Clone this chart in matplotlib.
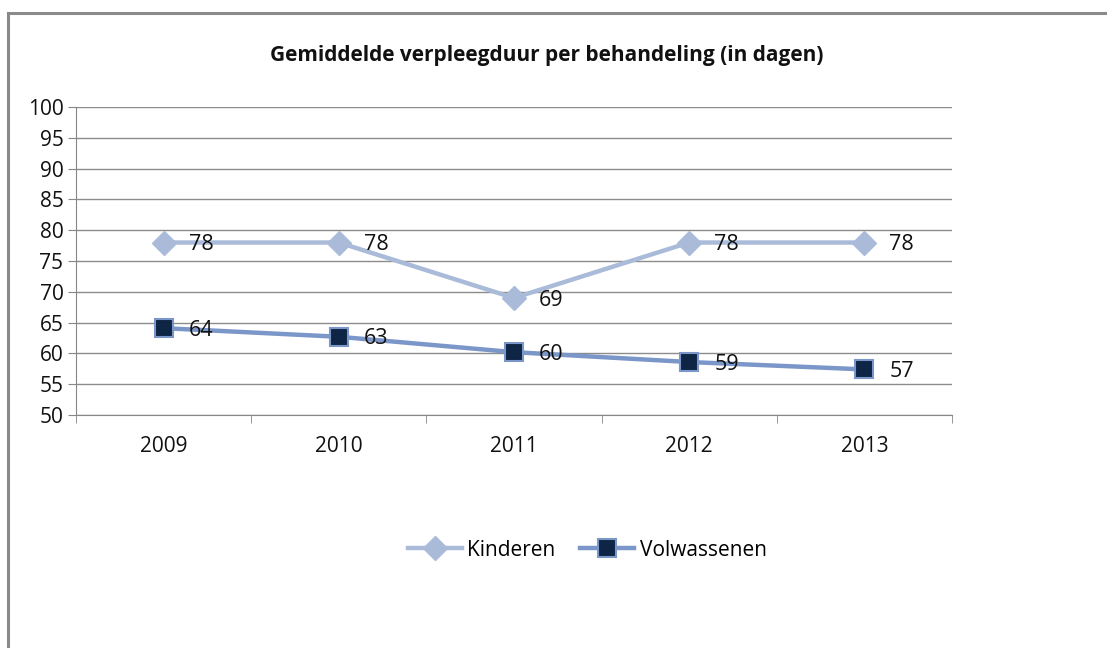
import numpy as np
import matplotlib.pyplot as plt
from matplotlib.lines import Line2D

plt.rcParams['font.family'] = ['Open Sans', 'DejaVu Sans']

# data
years = ['2009', '2010', '2011', '2012', '2013']
kinderen = [78.0, 78.0, 69.0, 78.0, 78.0]
volwassenen = [64.1, 62.7, 60.2, 58.6, 57.4]

W, H = 1107, 648
fig = plt.figure(figsize=(W / 100, H / 100), dpi=100)

# outer frame (only top and left edges visible in the screenshot)
frame_col = '#8a8a8a'
fig.add_artist(Line2D([8 / W, 8 / W], [0, 1 - 13 / H], color=frame_col, lw=2.2, transform=fig.transFigure))
fig.add_artist(Line2D([8 / W, 1], [1 - 13 / H, 1 - 13 / H], color=frame_col, lw=2.2, transform=fig.transFigure))

ax = fig.add_axes([76 / W, 1 - 415 / H, (952 - 76) / W, (415 - 107) / H])

x = np.arange(len(years))
c_kind = '#aabbd9'
c_volw = '#7b96c8'

ax.plot(x, kinderen, color=c_kind, lw=3.2, marker='D', markersize=12,
        markerfacecolor=c_kind, markeredgecolor=c_kind, label='Kinderen', zorder=3)
ax.plot(x, volwassenen, color=c_volw, lw=3.2, marker='s', markersize=13,
        markerfacecolor='#0f2545', markeredgecolor=c_volw, markeredgewidth=1.5,
        label='Volwassenen', zorder=4)

for xi, v in zip(x, kinderen):
    ax.annotate(f'{round(v):.0f}', (xi, v), xytext=(18, -1.5), textcoords='offset points',
                ha='left', va='center', fontsize=15.5, color='#111111', zorder=5)
for xi, v in zip(x, volwassenen):
    ax.annotate(f'{round(v):.0f}', (xi, v), xytext=(18, -1.5), textcoords='offset points',
                ha='left', va='center', fontsize=15.5, color='#111111', zorder=5)

ax.set_xlim(-0.5, len(years) - 0.5)
ax.set_ylim(50, 100)
ax.set_yticks(np.arange(50, 101, 5))
ax.set_xticks(x)
ax.set_xticklabels(years)
ax.set_xticks(np.arange(-0.5, len(years), 1), minor=True)
ax.tick_params(axis='x', which='major', length=0, pad=15, labelsize=15, labelcolor='#111111')
ax.tick_params(axis='x', which='minor', length=6, color='#868686', direction='out')
ax.tick_params(axis='y', length=6, color='#868686', pad=3, labelsize=15, labelcolor='#111111')

ax.grid(axis='y', color='#8c8c8c', lw=1)
ax.set_axisbelow(True)
for s in ['top', 'right']:
    ax.spines[s].set_visible(False)
ax.spines['left'].set_color('#868686')
ax.spines['bottom'].set_color('#868686')

fig.text(547 / W, 1 - 55 / H, 'Gemiddelde verpleegduur per behandeling (in dagen)',
         ha='center', va='center', fontsize=15, fontweight='bold', color='#111111')

fig.legend(loc='center', bbox_to_anchor=(587 / W, 1 - 550 / H), ncol=2, frameon=False,
           fontsize=15, handlelength=2.6, columnspacing=1.2, handletextpad=0.25)

fig.savefig('out.png', dpi=100, facecolor='white')
